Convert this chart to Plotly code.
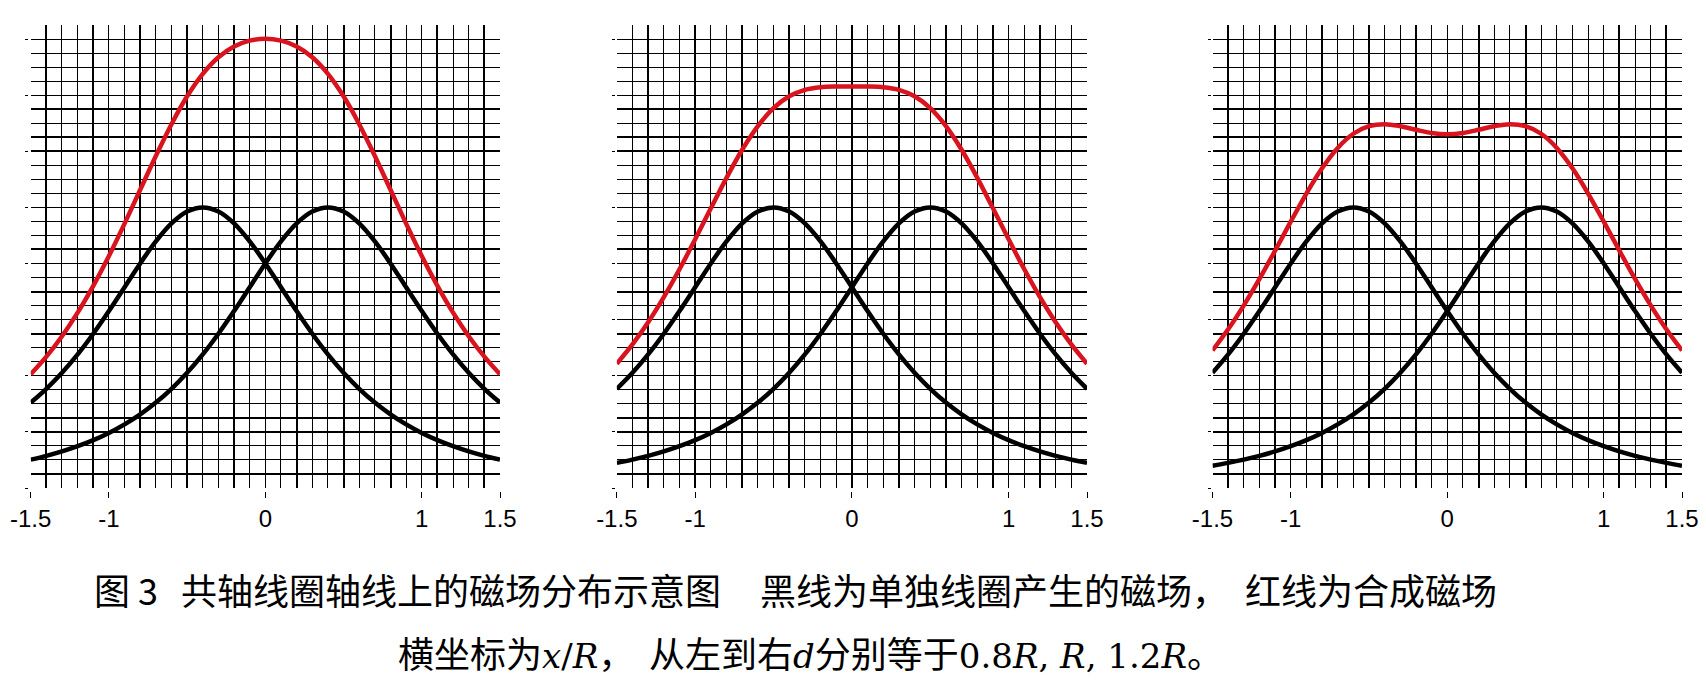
import plotly.graph_objects as go

# ---------------- data ----------------
x_vals = [-1.5, -1.4, -1.3, -1.2, -1.1, -1.0, -0.9, -0.8, -0.7, -0.6, -0.5,
          -0.4, -0.3, -0.2, -0.1, 0.0, 0.1, 0.2, 0.3, 0.4, 0.5,
          0.6, 0.7, 0.8, 0.9, 1.0, 1.1, 1.2, 1.3, 1.4, 1.5]

# panel 1 : d = 0.8R
p1_left = [0.3044, 0.3536, 0.4107, 0.4761, 0.5498, 0.6305, 0.7155, 0.8004, 0.8787, 0.9429, 0.9852,
           1.0000, 0.9852, 0.9429, 0.8787, 0.8004, 0.7155, 0.6305, 0.5498, 0.4761, 0.4107,
           0.3536, 0.3044, 0.2624, 0.2267, 0.1964, 0.1707, 0.1489, 0.1303, 0.1145, 0.1010]
p1_right = [0.1010, 0.1145, 0.1303, 0.1489, 0.1707, 0.1964, 0.2267, 0.2624, 0.3044, 0.3536, 0.4107,
            0.4761, 0.5498, 0.6305, 0.7155, 0.8004, 0.8787, 0.9429, 0.9852, 1.0000, 0.9852,
            0.9429, 0.8787, 0.8004, 0.7155, 0.6305, 0.5498, 0.4761, 0.4107, 0.3536, 0.3044]
p1_total = [0.4054, 0.4681, 0.5410, 0.6250, 0.7205, 0.8269, 0.9422, 1.0628, 1.1831, 1.2965, 1.3959,
            1.4761, 1.5350, 1.5734, 1.5942, 1.6008, 1.5942, 1.5734, 1.5350, 1.4761, 1.3959,
            1.2965, 1.1831, 1.0628, 0.9422, 0.8269, 0.7205, 0.6250, 0.5410, 0.4681, 0.4054]

# panel 2 : d = R
p2_left = [0.3536, 0.4107, 0.4761, 0.5498, 0.6305, 0.7155, 0.8004, 0.8787, 0.9429, 0.9852, 1.0000,
           0.9852, 0.9429, 0.8787, 0.8004, 0.7155, 0.6305, 0.5498, 0.4761, 0.4107, 0.3536,
           0.3044, 0.2624, 0.2267, 0.1964, 0.1707, 0.1489, 0.1303, 0.1145, 0.1010, 0.0894]
p2_right = [0.0894, 0.1010, 0.1145, 0.1303, 0.1489, 0.1707, 0.1964, 0.2267, 0.2624, 0.3044, 0.3536,
            0.4107, 0.4761, 0.5498, 0.6305, 0.7155, 0.8004, 0.8787, 0.9429, 0.9852, 1.0000,
            0.9852, 0.9429, 0.8787, 0.8004, 0.7155, 0.6305, 0.5498, 0.4761, 0.4107, 0.3536]
p2_total = [0.4430, 0.5117, 0.5906, 0.6801, 0.7794, 0.8862, 0.9968, 1.1054, 1.2053, 1.2896, 1.3536,
            1.3959, 1.4190, 1.4285, 1.4309, 1.4310, 1.4309, 1.4285, 1.4190, 1.3959, 1.3536,
            1.2896, 1.2053, 1.1054, 0.9968, 0.8862, 0.7794, 0.6801, 0.5906, 0.5117, 0.4430]

# panel 3 : d = 1.2R
p3_left = [0.4107, 0.4761, 0.5498, 0.6305, 0.7155, 0.8004, 0.8787, 0.9429, 0.9852, 1.0000, 0.9852,
           0.9429, 0.8787, 0.8004, 0.7155, 0.6305, 0.5498, 0.4761, 0.4107, 0.3536, 0.3044,
           0.2624, 0.2267, 0.1964, 0.1707, 0.1489, 0.1303, 0.1145, 0.1010, 0.0894, 0.0795]
p3_right = [0.0795, 0.0894, 0.1010, 0.1145, 0.1303, 0.1489, 0.1707, 0.1964, 0.2267, 0.2624, 0.3044,
            0.3536, 0.4107, 0.4761, 0.5498, 0.6305, 0.7155, 0.8004, 0.8787, 0.9429, 0.9852,
            1.0000, 0.9852, 0.9429, 0.8787, 0.8004, 0.7155, 0.6305, 0.5498, 0.4761, 0.4107]
p3_total = [0.4902, 0.5655, 0.6508, 0.7450, 0.8458, 0.9493, 1.0494, 1.1393, 1.2119, 1.2624, 1.2896,
            1.2965, 1.2894, 1.2765, 1.2653, 1.2610, 1.2653, 1.2765, 1.2894, 1.2965, 1.2896,
            1.2624, 1.2119, 1.1393, 1.0494, 0.9493, 0.8458, 0.7450, 0.6508, 0.5655, 0.4902]

# ticks / grid
x_tick_vals = [-1.5, -1, 0, 1, 1.5]
x_tick_text = ["-1.5", "-1", "0", "1", "1.5"]
y_tick_vals = [0, 0.2, 0.4, 0.6, 0.8, 1.0, 1.2, 1.4, 1.6]
x_grid = x_vals
y_grid = [0, 0.05, 0.1, 0.15, 0.2, 0.25, 0.3, 0.35, 0.4, 0.45, 0.5, 0.55, 0.6, 0.65, 0.7,
          0.75, 0.8, 0.85, 0.9, 0.95, 1.0, 1.05, 1.1, 1.15, 1.2, 1.25, 1.3, 1.35, 1.4,
          1.45, 1.5, 1.55, 1.6, 1.65]
thick_x = [
    [-1.5, -1.4, -1.1, -0.8, -0.5, -0.2, 0.2, 0.5, 0.8, 1.1, 1.4, 1.5],
    [-1.5, -1.3, -1.0, -0.7, -0.4, 0.0, 0.3, 0.6, 0.9, 1.2, 1.5],
    [-1.5, -1.4, -1.1, -0.8, -0.5, -0.2, 0.2, 0.5, 1.1, 1.4, 1.5],
]
thick_y = [0, 0.05, 0.2, 0.25, 0.55, 0.7, 0.85, 1.2, 1.25, 1.35]

lefts = [p1_left, p2_left, p3_left]
rights = [p1_right, p2_right, p3_right]
totals = [p1_total, p2_total, p3_total]

# ---------------- layout geometry (pixels) ----------------
W, H = 1706, 685
panel_px = [(30.7, 500.0), (616.8, 1087.0), (1212.5, 1682.0)]
ytick_px = [28.0, 614.5, 1210.5]
plot_top, plot_bottom = 25.0, 488.0
xtick_axis_px = 491.0

RED = "#d9141e"

fig = go.Figure()


def aid(k):
    return "" if k == 1 else str(k)


for i in range(3):
    m, t, lab = i + 1, i + 4, i + 7
    xm, ym = "x" + aid(m), "y" + aid(m)
    for ys in (lefts[i], rights[i]):
        fig.add_trace(go.Scatter(x=x_vals, y=ys, xaxis=xm, yaxis=ym, mode="lines",
                                 line=dict(color="black", width=4.5, shape="spline", smoothing=1),
                                 showlegend=False, hoverinfo="skip"))
    fig.add_trace(go.Scatter(x=x_vals, y=totals[i], xaxis=xm, yaxis=ym, mode="lines",
                             line=dict(color=RED, width=4.5, shape="spline", smoothing=1),
                             showlegend=False, hoverinfo="skip"))
    # empty traces to activate the overlay axes
    for xa, ya in (("x" + aid(t), ym), (xm, "y" + aid(t)), ("x" + aid(lab), ym), (xm, "y" + aid(lab))):
        fig.add_trace(go.Scatter(x=[], y=[], xaxis=xa, yaxis=ya, mode="lines",
                                 showlegend=False, hoverinfo="skip"))

    x0, x1 = panel_px[i]
    xdom = [x0 / W, x1 / W]
    ydom = [1 - plot_bottom / H, 1 - plot_top / H]
    common_x = dict(range=[-1.5, 1.5], zeroline=False, showline=False, fixedrange=True, automargin=False)
    common_y = dict(range=[0, 1.65], zeroline=False, showline=False, fixedrange=True, automargin=False)

    fig.layout["xaxis" + aid(m)] = dict(domain=xdom, anchor=ym, tickmode="array", tickvals=x_grid,
                                        showticklabels=False, ticks="", showgrid=True,
                                        gridcolor="black", gridwidth=1, **common_x)
    fig.layout["yaxis" + aid(m)] = dict(domain=ydom, anchor=xm, tickmode="array", tickvals=y_grid,
                                        showticklabels=False, ticks="", showgrid=True,
                                        gridcolor="black", gridwidth=1, **common_y)
    fig.layout["xaxis" + aid(t)] = dict(overlaying=xm, anchor=ym, tickmode="array", tickvals=thick_x[i],
                                        showticklabels=False, ticks="", showgrid=True,
                                        gridcolor="black", gridwidth=2, **common_x)
    fig.layout["yaxis" + aid(t)] = dict(overlaying=ym, anchor=xm, tickmode="array", tickvals=thick_y,
                                        showticklabels=False, ticks="", showgrid=True,
                                        gridcolor="black", gridwidth=2, **common_y)
    fig.layout["xaxis" + aid(lab)] = dict(overlaying=xm, anchor="free", position=1 - xtick_axis_px / H,
                                          side="bottom", tickmode="array", tickvals=x_tick_vals,
                                          ticktext=x_tick_text, ticks="outside", ticklen=6, tickwidth=1,
                                          tickcolor="black", showgrid=False,
                                          tickfont=dict(family="Liberation Sans", size=24, color="black"),
                                          **common_x)
    fig.layout["yaxis" + aid(lab)] = dict(overlaying=ym, anchor="free", position=ytick_px[i] / W,
                                          side="left", tickmode="array", tickvals=y_tick_vals,
                                          ticks="outside", ticklen=3, tickwidth=1, tickcolor="black",
                                          showticklabels=False, showgrid=False, **common_y)

# ---------------- caption ----------------
CJK = "Noto Sans CJK SC"
MATH = "DejaVu Serif"


def mi(s):
    return f"<span style=\"font-family:'{MATH}';font-style:italic;font-size:34px\">{s}</span>"


def mn(s):
    return f"<span style=\"font-family:'{MATH}';font-size:34px\">{s}</span>"


captions = [
    ("图 3", 92.0, 589.0),
    ("共轴线圈轴线上的磁场分布示意图", 179.0, 589.0),
    ("黑线为单独线圈产生的磁场，", 758.0, 589.0),
    ("红线为合成磁场", 1243.0, 589.0),
    ("横坐标为" + mi("x") + mn("/") + mi("R") + "，", 396.0, 652.0),
    ("从左到右" + mi("d") + "分别等于" + mn("0.8") + mi("R") + mn(", ") + mi("R") + mn(", ")
     + mn("1.2") + mi("R") + "。", 647.0, 652.0),
]
for text, px, py in captions:
    fig.add_annotation(text=text, xref="paper", yref="paper", x=px / W, y=1 - py / H,
                       xanchor="left", yanchor="middle", showarrow=False,
                       font=dict(family=CJK, size=36, color="black"))

fig.update_layout(width=W, height=H, margin=dict(l=0, r=0, t=0, b=0, autoexpand=False),
                  paper_bgcolor="white", plot_bgcolor="white", showlegend=False)

fig.write_html("out.html")
